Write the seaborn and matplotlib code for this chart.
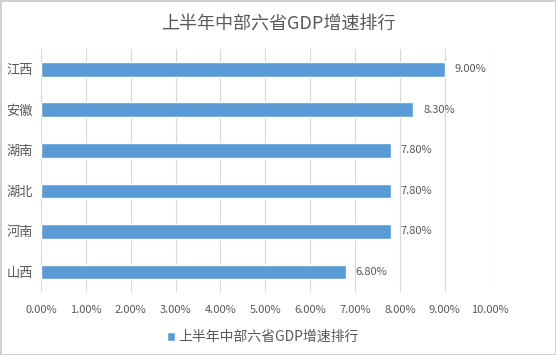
import matplotlib
matplotlib.use("Agg")
import matplotlib.pyplot as plt
import pandas as pd
import seaborn as sns

# DATA
provinces = ["江西", "安徽", "湖南", "湖北", "河南", "山西"]
growth = [9.0, 8.3, 7.8, 7.8, 7.8, 6.8]
x_ticks = [0, 1, 2, 3, 4, 5, 6, 7, 8, 9, 10]
series_name = "上半年中部六省GDP增速排行"

df = pd.DataFrame({"province": provinces, "growth": growth})

sns.set_style("white")
plt.rcParams["font.family"] = ["Noto Sans CJK SC", "DejaVu Sans"]

text_col = "#595959"
bar_col = "#5B9BD5"
grid_col = "#d9d9d9"

fig = plt.figure(figsize=(5.56, 3.55), dpi=100, edgecolor="#d0d0d0", linewidth=2)
ax = fig.add_axes([0.0737, 0.177, 0.807, 0.685])

sns.barplot(data=df, x="growth", y="province", orient="h", color=bar_col,
            width=0.36, saturation=1, ax=ax, label=series_name)

ax.set_xlim(0, 10)
ax.set_xticks(x_ticks)
ax.set_xticklabels([f"{t:.2f}%" for t in x_ticks])
ax.tick_params(axis="x", labelsize=8, colors=text_col, length=0, pad=9)
ax.tick_params(axis="y", labelsize=9.5, colors=text_col, length=0, pad=6)
ax.xaxis.grid(True, color=grid_col, linewidth=0.8)
ax.set_axisbelow(True)
for s in ax.spines.values():
    s.set_visible(False)
ax.set_xlabel("")
ax.set_ylabel("")

ax.bar_label(ax.containers[0], labels=[f"{v:.2f}%" for v in growth],
             padding=7, fontsize=8, color=text_col)

fig.suptitle(series_name, y=0.96, fontsize=13, color=text_col)

leg = ax.legend(loc="upper center", bbox_to_anchor=(0.494, -0.105), frameon=False,
                fontsize=10, handlelength=0.6, handleheight=0.6, handletextpad=0.2,
                labelcolor=text_col)

fig.savefig("out.png", dpi=100)
